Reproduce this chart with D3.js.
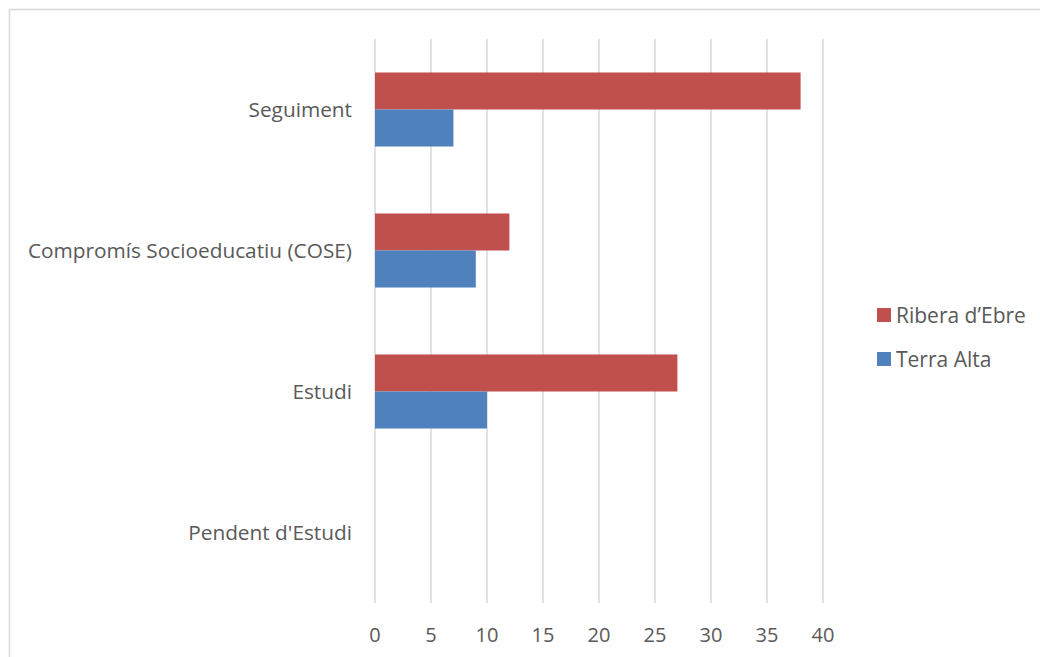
<!DOCTYPE html>
<html>
<head>
<meta charset="utf-8">
<script src="https://cdn.jsdelivr.net/npm/d3@7"></script>
<style>
  body { margin: 0; background: #fff; }
  svg { display: block; font-family: "Open Sans", "Noto Sans", sans-serif; }
</style>
</head>
<body>
<svg width="1040" height="657"></svg>
<script>
'use strict'

// data
const categories = ['Seguiment', 'Compromís Socioeducatiu (COSE)', 'Estudi', "Pendent d'Estudi"];
const seriesNames = ['Ribera d’Ebre', 'Terra Alta'];
const ribera = [38, 12, 27, 0];
const terraAlta = [7, 9, 10, 0];
const xTicks = [0, 5, 10, 15, 20, 25, 30, 35, 40];

const colors = ['#C0504D', '#4F81BD'];
const svg = d3.select('svg');

// chart frame
svg.append('rect')
  .attr('x', 9.5).attr('y', 9.5)
  .attr('width', 1040).attr('height', 660)
  .attr('fill', 'none').attr('stroke', '#d9d9d9').attr('stroke-width', 1.5);

const x = d3.scaleLinear().domain([0, 40]).range([375, 823]);
const y = d3.scaleBand().domain(categories).range([39, 603])
  .paddingInner(0.475).paddingOuter(0.2375);
const sub = d3.scaleBand().domain(seriesNames).range([0, y.bandwidth()]);

// gridlines
svg.append('g').selectAll('line')
  .data(xTicks)
  .join('line')
  .attr('x1', d => x(d)).attr('x2', d => x(d))
  .attr('y1', 39).attr('y2', 603)
  .attr('stroke', '#d9d9d9').attr('stroke-width', 1.5);

// bars
const rows = categories.map((c, i) => ({ c, vals: [ribera[i], terraAlta[i]] }));
const groups = svg.append('g').selectAll('g')
  .data(rows)
  .join('g')
  .attr('transform', d => `translate(0,${y(d.c)})`);

groups.selectAll('rect')
  .data(d => d.vals.map((v, j) => ({ v, s: seriesNames[j], j })))
  .join('rect')
  .attr('x', x(0))
  .attr('y', d => sub(d.s))
  .attr('width', d => x(d.v) - x(0))
  .attr('height', sub.bandwidth())
  .attr('fill', d => colors[d.j]);

// x labels
svg.append('g').selectAll('text')
  .data(xTicks)
  .join('text')
  .attr('x', d => x(d)).attr('y', 642)
  .attr('text-anchor', 'middle')
  .attr('font-size', 20).attr('fill', '#595959')
  .text(d => d);

// category labels
svg.append('g').selectAll('text')
  .data(categories)
  .join('text')
  .attr('x', 352)
  .attr('y', d => y(d) + y.bandwidth() / 2 + 7)
  .attr('text-anchor', 'end')
  .attr('font-size', 20.8).attr('fill', '#595959')
  .text(d => d);

// legend
const legend = svg.append('g').selectAll('g')
  .data(seriesNames)
  .join('g')
  .attr('transform', (d, i) => `translate(877,${308 + i * 44})`);
legend.append('rect')
  .attr('width', 14).attr('height', 14)
  .attr('fill', (d, i) => colors[i]);
legend.append('text')
  .attr('x', 19).attr('y', 15)
  .attr('font-size', 21).attr('fill', '#595959')
  .text(d => d);
</script>
</body>
</html>
